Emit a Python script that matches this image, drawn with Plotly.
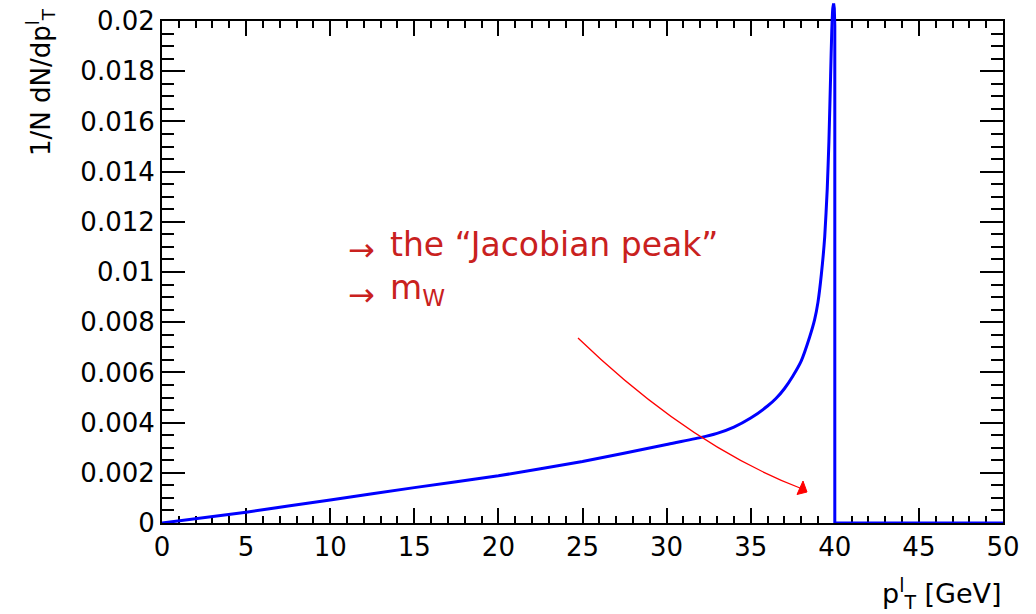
import plotly.graph_objects as go

# ---- data ----
pt = [0, 5, 10, 15, 20, 25, 30, 32, 33, 34, 35, 36, 36.5, 37, 37.5, 38, 38.5, 38.8,
      39.0, 39.2, 39.4, 39.55, 39.65, 39.75, 39.82, 39.88, 39.93, 39.97, 40.0, 40.0, 45, 50]
dndpt = [0, 0.00043, 0.00092, 0.00141, 0.00188, 0.00245, 0.00313, 0.0034, 0.00357, 0.00382,
         0.00418, 0.00466, 0.00496, 0.00535, 0.00585, 0.00645, 0.0074, 0.0081,
         0.0088, 0.0099, 0.0114, 0.0133, 0.0152, 0.0178, 0.0196, 0.0205, 0.0207, 0.0205, 0.0198,
         0.0, 0.0, 0.0]

x_ticks = [0, 5, 10, 15, 20, 25, 30, 35, 40, 45, 50]
x_ticktext = ["0", "5", "10", "15", "20", "25", "30", "35", "40", "45", "50"]
y_ticks = [0, 0.002, 0.004, 0.006, 0.008, 0.01, 0.012, 0.014, 0.016, 0.018, 0.02]
y_ticktext = ["0", "0.002", "0.004", "0.006", "0.008", "0.01", "0.012", "0.014", "0.016", "0.018", "0.02"]

W, H = 1036, 614
L, R, T, B = 162, 1003, 21, 523  # frame in pixels
FONT = "DejaVu Sans"
TEXT_RED = "#c9211e"
BLUE = "#0000ff"

def px(x):
    return x / W

def py(y):
    return 1 - y / H

# smooth rising part (spline) up to the peak, sharp edge drawn with straight segments
i_peak = dndpt.index(max(dndpt))

fig = go.Figure()

# empty trace to hold the framed axes
fig.add_trace(go.Scatter(x=[None], y=[None], xaxis="x", yaxis="y", showlegend=False, hoverinfo="skip"))

# curve drawn in an overlay subplot that extends above the frame (peak exceeds 0.02)
y2_top = 0.02 * B / (B - T)
fig.add_trace(go.Scatter(x=pt[:i_peak + 1], y=dndpt[:i_peak + 1], xaxis="x2", yaxis="y2", mode="lines",
                         line=dict(color=BLUE, width=3, shape="spline", smoothing=0.5),
                         showlegend=False))
fig.add_trace(go.Scatter(x=pt[i_peak:], y=dndpt[i_peak:], xaxis="x2", yaxis="y2", mode="lines",
                         line=dict(color=BLUE, width=3), showlegend=False))

axis_common = dict(showline=True, linecolor="black", linewidth=2, mirror="ticks",
                   ticks="inside", tickcolor="black", tickwidth=2, showgrid=False,
                   zeroline=False, automargin=False,
                   tickfont=dict(family=FONT, size=26, color="black"))

fig.update_layout(
    width=W, height=H,
    margin=dict(l=0, r=0, t=0, b=0, autoexpand=False),
    paper_bgcolor="white", plot_bgcolor="rgba(0,0,0,0)",
    showlegend=False,
    xaxis=dict(domain=[px(L), px(R)], range=[0, 50], tickvals=x_ticks, ticktext=x_ticktext,
               ticklen=15, minor=dict(dtick=1, ticklen=7, ticks="inside", tickcolor="black", tickwidth=1.5),
               anchor="y", **axis_common),
    yaxis=dict(domain=[py(B), py(T)], range=[0, 0.02], tickvals=y_ticks, ticktext=y_ticktext,
               ticklen=23, minor=dict(dtick=0.0005, ticklen=12, ticks="inside", tickcolor="black", tickwidth=1.5),
               anchor="x", **axis_common),
    xaxis2=dict(domain=[px(L), px(R)], range=[0, 50], visible=False, anchor="y2", automargin=False),
    yaxis2=dict(domain=[py(B), 1], range=[0, y2_top], visible=False, anchor="x2", automargin=False),
)

# red curved arrow (quadratic Bezier) and head, in data units of the main axes
def dx(p):
    return (p - L) / (R - L) * 50

def dy(p):
    return (B - p) / (B - T) * 0.02

fig.add_shape(type="path", xref="x", yref="y",
              path=f"M {dx(578)},{dy(338)} Q {dx(689)},{dy(445)} {dx(800)},{dy(488)}",
              line=dict(color="#ff0000", width=1.3))
fig.add_shape(type="path", xref="x", yref="y",
              path=f"M {dx(807)},{dy(492)} L {dx(803)},{dy(481)} L {dx(797)},{dy(494.5)} Z",
              line=dict(color="#ff0000", width=1), fillcolor="#ff0000")

# texts
for yy in (250, 295):
    fig.add_annotation(x=px(361), y=py(yy), xref="paper", yref="paper", text="→", showarrow=False,
                       font=dict(family=FONT, size=32, color=TEXT_RED), xanchor="center", yanchor="middle")
fig.add_annotation(x=px(388), y=py(245), xref="paper", yref="paper", text="the “Jacobian peak”",
                   showarrow=False, font=dict(family=FONT, size=33, color=TEXT_RED),
                   xanchor="left", yanchor="middle")
fig.add_annotation(x=px(388), y=py(289), xref="paper", yref="paper", text="m<sub>W</sub>",
                   showarrow=False, font=dict(family=FONT, size=33, color=TEXT_RED),
                   xanchor="left", yanchor="middle")

# axis titles
fig.add_annotation(x=px(40), y=py(6), xref="paper", yref="paper",
                   text="1/N dN/dp<sup>l</sup><sub>T</sub>", textangle=-90, showarrow=False,
                   font=dict(family=FONT, size=26, color="black"), xanchor="center", yanchor="top")
fig.add_annotation(x=px(1004), y=py(593), xref="paper", yref="paper",
                   text="p<sup>l</sup><sub>T</sub> [GeV]", showarrow=False,
                   font=dict(family=FONT, size=27, color="black"), xanchor="right", yanchor="middle")

fig.write_html("out.html")
